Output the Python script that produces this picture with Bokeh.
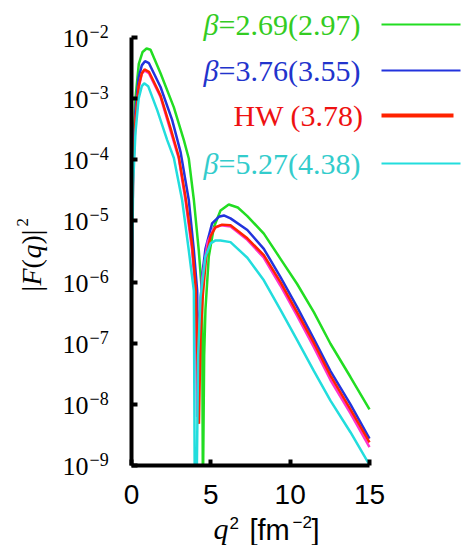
import math
from bokeh.plotting import figure
from bokeh.models import Label, Arrow, FixedTicker, CustomJSTickFormatter, Range1d, BoxAnnotation
from bokeh.embed import file_html
from bokeh.resources import INLINE

# ---------------- data ----------------
q2_green = [0.0005, 0.01, 0.1, 0.25, 0.46, 0.7, 0.95, 1.2, 1.83, 2.67, 3.30, 3.61, 3.93, 4.24, 4.45, 4.50,
            4.58, 4.66, 4.87, 5.19, 5.61, 6.13, 6.7, 7.3, 8.34, 9.39, 10.44, 11.5, 12.54, 13.8, 15.0]
f2_green = [3.2e-10, 1.6e-6, 1.6e-4, 1.0e-3, 3.7e-3, 5.8e-3, 6.6e-3, 6.3e-3, 2.6e-3, 7.2e-4, 2.1e-4, 1.05e-4,
            2.2e-5, 3.3e-6, 6.3e-7, 3.2e-10, 6.3e-8, 3.5e-7, 2.6e-6, 7.9e-6, 1.48e-5, 1.86e-5, 1.66e-5,
            1.2e-5, 6.2e-6, 2.4e-6, 9.3e-7, 3.2e-7, 9.8e-8, 2.8e-8, 8.3e-9]

q2_blue = [0.0005, 0.01, 0.1, 0.25, 0.45, 0.65, 0.85, 1.1, 1.83, 2.56, 3.09, 3.61, 3.93, 4.14, 4.20, 4.30,
           4.45, 4.66, 5.08, 5.5, 5.82, 6.24, 7.3, 8.34, 9.39, 10.44, 11.5, 12.54, 13.8, 15.0]
f2_blue = [3.2e-10, 1.0e-6, 1.0e-4, 6.3e-4, 2.2e-3, 3.5e-3, 4.1e-3, 3.8e-3, 1.55e-3, 4.5e-4, 1.35e-4, 2.2e-5,
           3.3e-6, 7.2e-7, 5.1e-9, 2.5e-7, 1.26e-6, 3.5e-6, 9.1e-6, 1.17e-5, 1.23e-5, 1.1e-5, 7.1e-6,
           3.5e-6, 1.2e-6, 3.9e-7, 1.17e-7, 3.5e-8, 1.0e-8, 2.75e-9]

q2_red = [0.0005, 0.01, 0.1, 0.25, 0.45, 0.65, 0.82, 1.1, 1.83, 2.46, 2.98, 3.40, 3.82, 4.05, 4.25, 4.35,
          4.50, 4.70, 4.98, 5.3, 5.71, 6.24, 7.3, 8.34, 9.39, 10.44, 11.5, 12.54, 13.8, 15.0]
f2_red = [3.2e-10, 6.3e-7, 6.3e-5, 4.5e-4, 1.6e-3, 2.6e-3, 3.0e-3, 2.75e-3, 1.12e-3, 3.3e-4, 1.12e-4, 2.5e-5,
          4.0e-6, 7.9e-7, 4.8e-9, 1.26e-7, 6.3e-7, 2.5e-6, 5.6e-6, 7.9e-6, 8.7e-6, 8.5e-6, 5.2e-6,
          2.75e-6, 1.0e-6, 3.2e-7, 1.0e-7, 2.95e-8, 8.3e-9, 2.4e-9]

q2_magenta = [0.0005, 0.01, 0.1, 0.25, 0.45, 0.65, 0.82, 1.1, 1.83, 2.46, 2.98, 3.40, 3.82, 4.03, 4.14, 4.25,
              4.45, 4.8, 5.2, 5.65, 6.24, 7.3, 8.34, 9.39, 10.44, 11.5, 12.54, 13.8, 15.0]
f2_magenta = [3.2e-10, 6.3e-7, 6.3e-5, 4.3e-4, 1.5e-3, 2.55e-3, 2.9e-3, 2.6e-3, 1.07e-3, 3.0e-4, 1.05e-4,
              2.2e-5, 3.3e-6, 7.2e-7, 6.2e-9, 1.6e-7, 1.12e-6, 4.5e-6, 7.6e-6, 8.5e-6, 8.1e-6, 4.9e-6,
              2.5e-6, 8.7e-7, 2.8e-7, 8.5e-8, 2.5e-8, 7.1e-9, 2.0e-9]

q2_cyan = [0.0005, 0.01, 0.1, 0.25, 0.45, 0.65, 0.80, 1.05, 1.62, 2.25, 2.67, 3.19, 3.61, 3.93, 3.99, 4.10,
           4.2, 4.35, 4.66, 4.98, 5.3, 5.61, 6.24, 7.3, 8.34, 9.39, 10.44, 11.5, 12.54, 13.8, 15.0]
f2_cyan = [3.2e-10, 3.2e-7, 4.0e-5, 2.8e-4, 1.0e-3, 1.6e-3, 1.78e-3, 1.6e-3, 6.5e-4, 2.1e-4, 1.07e-4, 2.2e-5,
           3.3e-6, 7.2e-7, 3.2e-10, 3.2e-10, 6.3e-8, 5.6e-7, 2.6e-6, 4.3e-6, 4.8e-6, 4.8e-6, 4.5e-6,
           2.5e-6, 1.07e-6, 3.5e-7, 1.12e-7, 3.5e-8, 1.15e-8, 3.5e-9, 1.02e-9]

legend_prefix = ["β", "β", "", "β"]
legend_text = ["=2.69(2.97)", "=3.76(3.55)", "HW (3.78)", "=5.27(4.38)"]
x_ticks = [0, 5, 10, 15]
y_ticks = [1e-2, 1e-3, 1e-4, 1e-5, 1e-6, 1e-7, 1e-8, 1e-9]
y_tick_base = "10"
y_tick_exp = ["−2", "−3", "−4", "−5", "−6", "−7", "−8", "−9"]

# ---------------- styling / geometry ----------------
C_GREEN, C_BLUE, C_RED, C_MAG, C_CYAN = "#22dd22", "#2233dd", "#ff2200", "#ff33cc", "#22dddd"
T_GREEN, T_BLUE, T_RED, T_CYAN = "#33cc22", "#2233cc", "#ee1111", "#33cccc"
SERIF, SANS = "Liberation Serif", "Liberation Sans"

W, H = 468, 545
AL, AT, AR, AB = 131, 37, 369, 465     # where the axes box sits on the canvas (px)
X0, X1 = 0, 15
LOG0, LOG1 = -9, -2
SX = (AR - AL) / (X1 - X0)              # px per x unit
SY = (AB - AT) / (LOG1 - LOG0)          # px per decade

# the frame fills the whole canvas; axes are pinned at x=0 / y=1e-9
xr = Range1d(X0 - AL / SX, X1 + (W - AR) / SX)
yr = Range1d(10 ** (LOG0 - (H - AB) / SY), 10 ** (LOG1 + AT / SY))

p = figure(width=W, height=H, x_range=xr, y_range=yr, y_axis_type="log", title=None,
           output_backend="svg", toolbar_location=None,
           min_border_left=0, min_border_right=0, min_border_top=0, min_border_bottom=0)
p.outline_line_color = None
p.grid.visible = False
p.background_fill_color = "white"
p.border_fill_color = "white"

for ax in (p.xaxis, p.yaxis):
    ax.axis_line_width = 4
    ax.axis_line_color = "black"
    ax.major_tick_in = 6
    ax.major_tick_out = 0
    ax.major_tick_line_width = 4
    ax.minor_tick_line_color = None

p.xaxis.fixed_location = 10 ** LOG0
p.xaxis.bounds = (X0, X1)
p.xaxis.ticker = FixedTicker(ticks=x_ticks)
p.xaxis.major_label_text_font = SANS
p.xaxis.major_label_text_font_size = "28px"
p.xaxis.major_label_text_color = "black"
p.xaxis.major_label_standoff = 19

p.yaxis.fixed_location = X0
p.yaxis.bounds = (10 ** LOG0, 10 ** LOG1)
p.yaxis.ticker = FixedTicker(ticks=y_ticks)
p.yaxis.formatter = CustomJSTickFormatter(code="return ''")

# curves
p.line(q2_green, f2_green, line_color=C_GREEN, line_width=2.5)
p.line(q2_blue, f2_blue, line_color=C_BLUE, line_width=2.5)
p.line(q2_magenta, f2_magenta, line_color=C_MAG, line_width=2.5)
p.line(q2_red, f2_red, line_color=C_RED, line_width=2.5)
p.line(q2_cyan, f2_cyan, line_color=C_CYAN, line_width=2.5)

# white mask below the x axis (the curves are cut at 1e-9 as in the original)
p.add_layout(BoxAnnotation(top=10 ** LOG0, fill_color="white", fill_alpha=1.0, line_color=None, level="glyph"))
p.add_layout(BoxAnnotation(right=X0, fill_color="white", fill_alpha=1.0, line_color=None, level="glyph"))


def lab(text, x, y, size, font=SERIF, style="normal", align="left", color="black", angle=0.0):
    p.add_layout(Label(x=x, y=y, x_units="canvas", y_units="canvas", text=text, text_font=font,
                       text_font_size=size, text_font_style=style, text_align=align,
                       text_baseline="middle", text_color=color, angle=angle))


# y tick labels 10^-n
for t, e in zip(y_ticks, y_tick_exp):
    ty = AT + (LOG1 - math.log10(t)) * SY
    lab(y_tick_base, 88, ty + 1, "26px", align="right")
    lab(e, 89, ty - 6, "18px")

# legend
rows_y = [24, 70, 115, 163]
text_cols = [T_GREEN, T_BLUE, T_RED, T_CYAN]
line_cols = [C_GREEN, C_BLUE, C_RED, C_CYAN]
line_w = [2, 2, 4, 2]
line_end = [460, 460, 453, 460]
for pre, txt, ry, tc, lc, lw, le in zip(legend_prefix, legend_text, rows_y, text_cols, line_cols, line_w, line_end):
    if pre:
        lab(pre, 218, ry, "30px", style="italic", align="right", color=tc)
        lab(txt, 218, ry, "30px", color=tc)
    else:
        lab(txt, 363, ry, "30px", align="right", color=tc)
    p.add_layout(Arrow(end=None, x_start=381, y_start=ry, x_end=le, y_end=ry,
                       start_units="canvas", end_units="canvas", line_color=lc, line_width=lw))

# x axis label: q^2 [fm^-2]
lab("q", 213, 528, "30px", style="italic")
lab("2", 229, 522, "17px", font=SANS)
lab("[fm", 249, 529, "29px", font=SANS)
lab("−2", 292, 521, "17px", font=SANS)
lab("]", 311, 529, "29px", font=SANS)

# y axis label: |F(q)|^2 (rotated)
A = math.pi / 2
lab("|", 31, 291, "28px", angle=A)
lab("F", 31, 285, "28px", style="italic", angle=A)
lab("(", 31, 268, "28px", angle=A)
lab("q", 31, 258, "28px", style="italic", angle=A)
lab(")|", 31, 244, "28px", angle=A)
lab("2", 22, 226, "17px", angle=A)

open("out.html", "w").write(file_html(p, INLINE))
